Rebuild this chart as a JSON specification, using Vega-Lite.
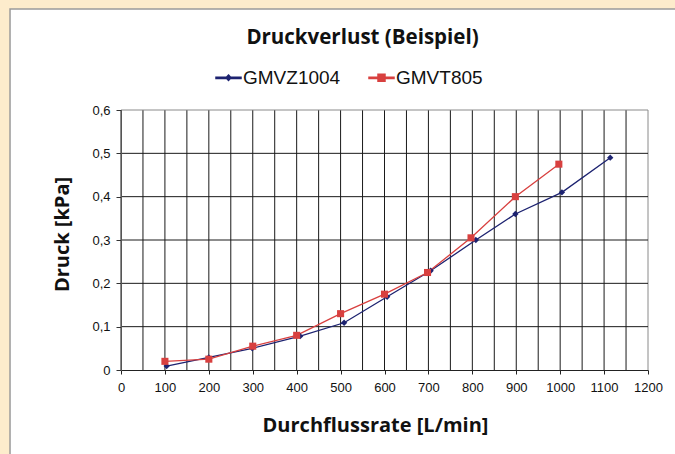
{
  "$schema": "https://vega.github.io/schema/vega-lite/v6.json",
  "width": 527,
  "height": 260,
  "autosize": {"type": "none"},
  "padding": {"left": 121, "top": 110, "right": 27, "bottom": 84},
  "background": "#FDECCC",
  "config": {"view": {"stroke": null}, "axis": {"grid": false}},
  "title": {
    "text": "Druckverlust (Beispiel)",
    "font": "Open Sans",
    "fontSize": 20.5,
    "fontWeight": "bold",
    "color": "#111111",
    "anchor": "middle",
    "dx": -22,
    "offset": -40
  },
  "datasets": {
    "gmv": [
      {"x": 104, "y": 0.009, "s": "GMVZ1004"},
      {"x": 200, "y": 0.029, "s": "GMVZ1004"},
      {"x": 299, "y": 0.05, "s": "GMVZ1004"},
      {"x": 408, "y": 0.078, "s": "GMVZ1004"},
      {"x": 508, "y": 0.109, "s": "GMVZ1004"},
      {"x": 606, "y": 0.169, "s": "GMVZ1004"},
      {"x": 705, "y": 0.229, "s": "GMVZ1004"},
      {"x": 808, "y": 0.3, "s": "GMVZ1004"},
      {"x": 898, "y": 0.36, "s": "GMVZ1004"},
      {"x": 1004, "y": 0.41, "s": "GMVZ1004"},
      {"x": 1114, "y": 0.49, "s": "GMVZ1004"},
      {"x": 100, "y": 0.02, "s": "GMVT805"},
      {"x": 200, "y": 0.025, "s": "GMVT805"},
      {"x": 300, "y": 0.055, "s": "GMVT805"},
      {"x": 400, "y": 0.08, "s": "GMVT805"},
      {"x": 500, "y": 0.13, "s": "GMVT805"},
      {"x": 600, "y": 0.175, "s": "GMVT805"},
      {"x": 698, "y": 0.225, "s": "GMVT805"},
      {"x": 797, "y": 0.305, "s": "GMVT805"},
      {"x": 898, "y": 0.4, "s": "GMVT805"},
      {"x": 997, "y": 0.475, "s": "GMVT805"}
    ],
    "gx": [
      {"v": 0}, {"v": 50}, {"v": 100}, {"v": 150}, {"v": 200}, {"v": 250}, {"v": 300}, {"v": 350}, {"v": 400},
      {"v": 450}, {"v": 500}, {"v": 550}, {"v": 600}, {"v": 650}, {"v": 700}, {"v": 750}, {"v": 800},
      {"v": 850}, {"v": 900}, {"v": 950}, {"v": 1000}, {"v": 1050}, {"v": 1100}, {"v": 1150}, {"v": 1200}
    ],
    "gy": [
      {"v": 0.1}, {"v": 0.2}, {"v": 0.3}, {"v": 0.4}, {"v": 0.5}, {"v": 0.6}
    ]
  },
  "layer": [
    {
      "data": {"values": [{}]},
      "mark": {"type": "rect", "fill": "#ffffff", "stroke": "#9a9a9a", "strokeWidth": 1.5},
      "encoding": {
        "x": {
          "datum": -252.7, "type": "quantitative",
          "scale": {"domain": [0, 1200], "nice": false, "zero": false},
          "axis": {
            "zindex": 1,
            "values": [0, 50, 100, 150, 200, 250, 300, 350, 400, 450, 500, 550, 600, 650, 700, 750, 800, 850, 900, 950, 1000, 1050, 1100, 1150, 1200],
            "labelExpr": "datum.value % 100 === 0 ? datum.value : ''",
            "labelFont": "Liberation Sans",
            "labelFontSize": 13,
            "labelColor": "#111111",
            "labelPadding": 7,
            "labelFlush": false,
            "labelOverlap": false,
            "tickSize": 4,
            "tickColor": "#222222",
            "domainColor": "#222222",
            "title": "Durchflussrate [L/min]",
            "titleFont": "Open Sans",
            "titleFontSize": 20,
            "titleFontWeight": "bold",
            "titleColor": "#111111",
            "titleX": 254,
            "titleY": 55,
            "titleBaseline": "middle",
            "titleAlign": "center"
          }
        },
        "x2": {"datum": 1600},
        "y": {
          "datum": 0.833, "type": "quantitative",
          "scale": {"domain": [0, 0.6], "nice": false, "zero": false},
          "axis": {
            "zindex": 1,
            "values": [0, 0.1, 0.2, 0.3, 0.4, 0.5, 0.6],
            "labelExpr": "datum.value == 0 ? '0' : replace(format(datum.value, '.1f'), '.', ',')",
            "labelFont": "Liberation Sans",
            "labelFontSize": 13,
            "labelColor": "#111111",
            "labelPadding": 6,
            "labelFlush": false,
            "labelOverlap": false,
            "tickSize": 5,
            "tickColor": "#333333",
            "domainColor": "#555555",
            "title": "Druck [kPa]",
            "titleFont": "Open Sans",
            "titleFontSize": 20,
            "titleFontWeight": "bold",
            "titleColor": "#111111",
            "titleAngle": -90,
            "titleX": -59,
            "titleY": 124,
            "titleBaseline": "middle",
            "titleAlign": "center"
          }
        },
        "y2": {"datum": -0.4}
      }
    },
    {
      "data": {"name": "gx"},
      "mark": {"type": "rule", "strokeWidth": 1},
      "encoding": {
        "x": {"field": "v", "type": "quantitative", "scale": {"domain": [0, 1200], "nice": false, "zero": false}},
        "color": {"condition": {"test": "datum.v >= 1200", "value": "#8a8a8a"}, "value": "#1a1a1a"}
      }
    },
    {
      "data": {"name": "gy"},
      "mark": {"type": "rule", "strokeWidth": 1},
      "encoding": {
        "y": {"field": "v", "type": "quantitative", "scale": {"domain": [0, 0.6], "nice": false, "zero": false}},
        "color": {"condition": {"test": "datum.v >= 0.59", "value": "#8a8a8a"}, "value": "#1a1a1a"}
      }
    },
    {
      "data": {"name": "gmv"},
      "mark": {"type": "line", "strokeWidth": 1.3},
      "encoding": {
        "x": {"field": "x", "type": "quantitative", "scale": {"domain": [0, 1200], "nice": false, "zero": false}},
        "y": {"field": "y", "type": "quantitative", "scale": {"domain": [0, 0.6], "nice": false, "zero": false}},
        "color": {
          "field": "s", "type": "nominal",
          "scale": {"domain": ["GMVZ1004", "GMVT805"], "range": ["#1c2270", "#d8403f"]},
          "legend": {
            "title": null,
            "orient": "none",
            "direction": "horizontal",
            "legendX": 94,
            "legendY": -46,
            "padding": 0,
            "labelFont": "Liberation Sans",
            "labelFontSize": 19,
            "labelColor": "#111111",
            "labelOffset": 1,
            "symbolSize": 625,
            "columnPadding": 25,
            "encode": {
              "symbols": {
                "update": {
                  "shape": {"signal": "datum.value === 'GMVZ1004' ? 'M-1,-0.05H1V0.05H-1ZM0,-0.22L0.2,0L0,0.22L-0.2,0Z' : 'M-1,-0.05H1V0.05H-1ZM-0.28,-0.28H0.28V0.28H-0.28Z'"},
                  "size": {"value": 625},
                  "fill": {"signal": "datum.value === 'GMVZ1004' ? '#1c2270' : '#d8403f'"},
                  "stroke": {"value": "transparent"},
                  "fillOpacity": {"value": 1},
                  "opacity": {"value": 1}
                }
              }
            }
          }
        }
      }
    },
    {
      "data": {"name": "gmv"},
      "transform": [{"filter": "datum.s === 'GMVZ1004'"}],
      "mark": {"type": "point", "filled": true, "opacity": 1, "shape": "diamond", "size": 40, "color": "#1c2270"},
      "encoding": {
        "x": {"field": "x", "type": "quantitative", "scale": {"domain": [0, 1200], "nice": false, "zero": false}},
        "y": {"field": "y", "type": "quantitative", "scale": {"domain": [0, 0.6], "nice": false, "zero": false}}
      }
    },
    {
      "data": {"name": "gmv"},
      "transform": [{"filter": "datum.s === 'GMVT805'"}],
      "mark": {"type": "point", "filled": true, "opacity": 1, "shape": "square", "size": 50, "color": "#d8403f"},
      "encoding": {
        "x": {"field": "x", "type": "quantitative", "scale": {"domain": [0, 1200], "nice": false, "zero": false}},
        "y": {"field": "y", "type": "quantitative", "scale": {"domain": [0, 0.6], "nice": false, "zero": false}}
      }
    }
  ]
}
